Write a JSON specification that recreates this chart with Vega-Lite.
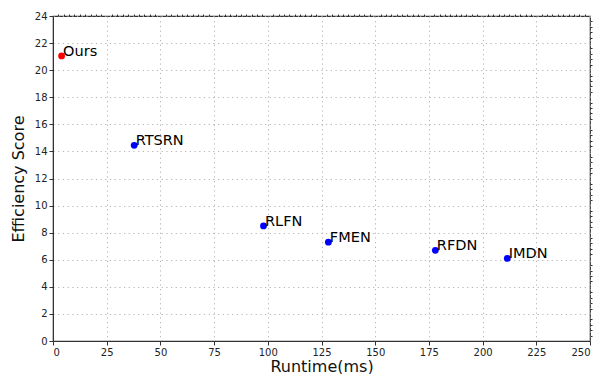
{
  "$schema": "https://vega.github.io/schema/vega-lite/v6.json",
  "autosize": "none",
  "width": 537,
  "height": 325,
  "padding": {"left": 53, "top": 16, "right": 10, "bottom": 33},
  "background": "white",
  "config": {
    "font": "DejaVu Sans",
    "view": {"stroke": "#333", "strokeWidth": 1.2},
    "axis": {
      "labelFont": "DejaVu Sans",
      "titleFont": "DejaVu Sans",
      "labelFontSize": 10,
      "labelColor": "#222",
      "titleFontSize": 16,
      "titleFontWeight": "normal",
      "titleColor": "#111",
      "domainColor": "#333",
      "tickColor": "#333",
      "tickSize": 4,
      "gridColor": "#aaa",
      "gridDash": [1.2, 3.5],
      "gridWidth": 0.9
    }
  },
  "data": {
    "values": [
      {"method": "Ours", "runtime": 4, "score": 21.05, "group": "ours"},
      {"method": "RTSRN", "runtime": 37.8, "score": 14.45, "group": "other"},
      {"method": "RLFN", "runtime": 98, "score": 8.5, "group": "other"},
      {"method": "FMEN", "runtime": 128.2, "score": 7.3, "group": "other"},
      {"method": "RFDN", "runtime": 178, "score": 6.7, "group": "other"},
      {"method": "IMDN", "runtime": 211.5, "score": 6.1, "group": "other"}
    ]
  },
  "layer": [
    {
      "mark": {"type": "point", "filled": true, "size": 46, "opacity": 1},
      "encoding": {
        "x": {"field": "runtime", "type": "quantitative", "scale": {"domain": [0, 250], "nice": false},
              "axis": {"title": "Runtime(ms)", "values": [0,25,50,75,100,125,150,175,200,225,250], "titlePadding": 1, "labelPadding": 2}},
        "y": {"field": "score", "type": "quantitative", "scale": {"domain": [0, 24], "nice": false},
              "axis": {"title": "Efficiency Score", "values": [0,2,4,6,8,10,12,14,16,18,20,22,24], "titlePadding": 8, "labelPadding": 2}},
        "color": {"field": "group", "type": "nominal", "scale": {"domain": ["ours", "other"], "range": ["#ff0000", "#0000ff"]}, "legend": null}
      }
    },
    {
      "mark": {"type": "text", "align": "left", "baseline": "alphabetic", "dx": 1.5, "fontSize": 14.5, "font": "DejaVu Sans", "color": "black"},
      "encoding": {
        "x": {"field": "runtime", "type": "quantitative", "axis": {"title": null, "labels": false, "grid": false, "domain": false, "tickSize": 2, "values": [2.5,5,7.5,10,12.5,15,17.5,20,22.5,27.5,30,32.5,35,37.5,40,42.5,45,47.5,52.5,55,57.5,60,62.5,65,67.5,70,72.5,77.5,80,82.5,85,87.5,90,92.5,95,97.5,102.5,105,107.5,110,112.5,115,117.5,120,122.5,127.5,130,132.5,135,137.5,140,142.5,145,147.5,152.5,155,157.5,160,162.5,165,167.5,170,172.5,177.5,180,182.5,185,187.5,190,192.5,195,197.5,202.5,205,207.5,210,212.5,215,217.5,220,222.5,227.5,230,232.5,235,237.5,240,242.5,245,247.5]}},
        "y": {"field": "score", "type": "quantitative", "axis": {"title": null, "labels": false, "grid": false, "domain": false, "tickSize": 2, "values": [0.4,0.8,1.2,1.6,2.4,2.8,3.2,3.6,4.4,4.8,5.2,5.6,6.4,6.8,7.2,7.6,8.4,8.8,9.2,9.6,10.4,10.8,11.2,11.6,12.4,12.8,13.2,13.6,14.4,14.8,15.2,15.6,16.4,16.8,17.2,17.6,18.4,18.8,19.2,19.6,20.4,20.8,21.2,21.6,22.4,22.8,23.2,23.6]}},
        "text": {"field": "method"}
      }
    }
  ],
  "resolve": {"axis": {"x": "independent", "y": "independent"}}
}
